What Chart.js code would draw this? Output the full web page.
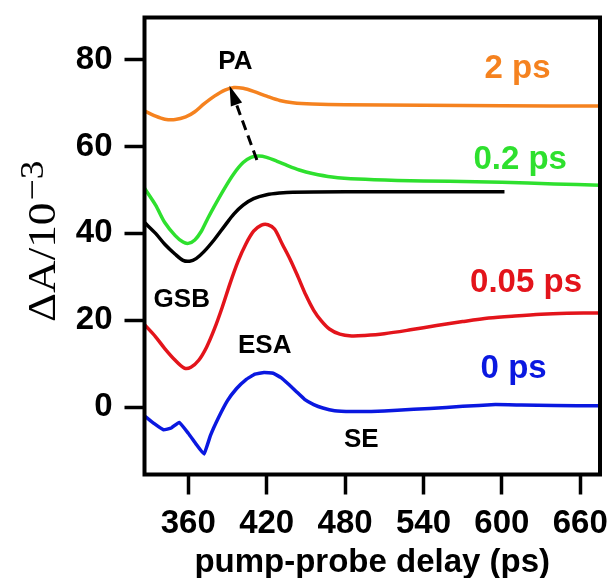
<!DOCTYPE html>
<html>
<head>
<meta charset="utf-8">
<script src="https://cdn.jsdelivr.net/npm/chart.js@4.4.0/dist/chart.umd.min.js"></script>
<style>
  html, body { margin: 0; padding: 0; background: #fff; }
</style>
</head>
<body>
<canvas id="myChart" width="611" height="578"></canvas>
<script>
'use strict';
// tick values
let xTicks = [360, 420, 480, 540, 600, 660];
let yTicks = [0, 20, 40, 60, 80];

// 2 ps
let delay2ps = [326.5, 335, 342, 350, 358, 365, 372, 380, 388, 395, 402, 410, 420, 430, 440, 455, 480, 540, 600, 675];
let dA2ps = [68.2, 67.0, 66.3, 66.2, 66.8, 68.0, 69.8, 71.6, 73.0, 73.6, 73.4, 72.7, 71.6, 70.6, 70.1, 69.8, 69.6, 69.5, 69.4, 69.3];

// 0.2 ps
let delay02ps = [326.5, 335, 342, 350, 356, 360, 365, 370, 375, 380, 388, 395, 402, 408, 414, 420, 428, 436, 445, 455, 470, 490, 520, 560, 600, 640, 675];
let dA02ps = [50.4, 46.5, 42.5, 39.5, 38.0, 37.7, 38.5, 40.5, 43.5, 46.3, 50.5, 53.8, 56.3, 57.5, 57.8, 57.5, 56.6, 55.6, 54.6, 53.8, 53.0, 52.5, 52.2, 52.0, 51.8, 51.4, 51.1];

// black trace
let delayBlack = [326.5, 335, 342, 350, 356, 361, 366, 372, 380, 388, 395, 402, 410, 420, 430, 440, 480, 540, 602];
let dABlack = [42.5, 40.0, 37.5, 35.2, 33.8, 33.6, 34.2, 35.8, 38.6, 41.8, 44.5, 46.5, 48.0, 48.9, 49.3, 49.5, 49.6, 49.6, 49.6];

// 0.05 ps
let delay005ps = [326.5, 335, 342, 350, 357, 362, 368, 374, 380, 386, 392, 398, 404, 410, 416, 421, 426, 432, 438, 444, 450, 456, 462, 468, 476, 485, 495, 510, 530, 550, 570, 590, 610, 630, 650, 675];
let dA005ps = [19.0, 16.2, 13.5, 10.8, 9.0, 9.2, 10.8, 13.8, 18.0, 23.0, 28.5, 33.5, 37.5, 40.5, 41.9, 42.0, 41.0, 37.5, 34.0, 30.0, 25.8, 22.3, 19.8, 18.0, 16.8, 16.4, 16.5, 16.9, 17.8, 18.8, 19.7, 20.5, 21.0, 21.4, 21.6, 21.7];

// 0 ps
let delay0ps = [326.5, 334, 341, 347, 353, 360, 366, 372, 377, 383, 390, 397, 404, 411, 418, 425, 431, 437, 443, 449, 456, 463, 472, 485, 500, 520, 545, 570, 595, 615, 640, 675];
let dA0ps = [-2.0, -3.8, -5.2, -4.8, -3.5, -6.0, -8.5, -10.8, -6.5, -2.5, 1.5, 4.3, 6.3, 7.6, 8.0, 7.8, 6.8, 5.2, 3.5, 1.8, 0.6, -0.2, -0.8, -1.0, -1.0, -0.7, -0.3, 0.2, 0.6, 0.5, 0.4, 0.3];

let orange = '#f5821f';
let green = '#2ee02e';
let red = '#e3141b';
let blue = '#0a18e0';
let boldFont = 'Liberation Sans, Arial, sans-serif';

// text notes, placed in data units
let notes = [
    { text: 'PA', x: 396, y: 79.6, color: '#000', size: 26 },
    { text: 'GSB', x: 355, y: 24.6, color: '#000', size: 26 },
    { text: 'ESA', x: 418.5, y: 14.2, color: '#000', size: 26 },
    { text: 'SE', x: 492.4, y: -7.5, color: '#000', size: 26 },
    { text: '2 ps', x: 612, y: 77.8, color: orange, size: 33 },
    { text: '0.2 ps', x: 614, y: 56.9, color: green, size: 33 },
    { text: '0.05 ps', x: 618.5, y: 28.5, color: red, size: 33 },
    { text: '0 ps', x: 609, y: 8.8, color: blue, size: 33 }
];
let arrowFrom = [412.5, 56.9];
let arrowTo = [391.6, 74.0];

function series(xs, ys, color, tension) {
    return {
        data: xs.map((v, i) => ({ x: v, y: ys[i] })),
        borderColor: color,
        borderWidth: 3.5,
        pointRadius: 0,
        showLine: true,
        fill: false,
        tension: tension
    };
}

let decorations = {
    id: 'decorations',
    afterDatasetsDraw(chart) {
        let ctx = chart.ctx;
        let a = chart.chartArea;
        let xs = chart.scales.x;
        let ys = chart.scales.y;
        ctx.save();
        // frame box
        ctx.lineWidth = 4;
        ctx.strokeStyle = '#000';
        ctx.strokeRect(a.left, a.top, a.right - a.left, a.bottom - a.top);

        // dashed arrow
        let x1 = xs.getPixelForValue(arrowFrom[0]), y1 = ys.getPixelForValue(arrowFrom[1]);
        let x2 = xs.getPixelForValue(arrowTo[0]), y2 = ys.getPixelForValue(arrowTo[1]);
        let ang = Math.atan2(y2 - y1, x2 - x1);
        let head = 20;
        ctx.lineWidth = 3;
        ctx.setLineDash([10, 6]);
        ctx.beginPath();
        ctx.moveTo(x1, y1);
        ctx.lineTo(x2 - head * Math.cos(ang), y2 - head * Math.sin(ang));
        ctx.stroke();
        ctx.setLineDash([]);
        ctx.fillStyle = '#000';
        ctx.beginPath();
        ctx.moveTo(x2, y2);
        ctx.lineTo(x2 - head * Math.cos(ang) + 6 * Math.sin(ang), y2 - head * Math.sin(ang) - 6 * Math.cos(ang));
        ctx.lineTo(x2 - head * Math.cos(ang) - 6 * Math.sin(ang), y2 - head * Math.sin(ang) + 6 * Math.cos(ang));
        ctx.closePath();
        ctx.fill();

        // notes
        ctx.textAlign = 'center';
        ctx.textBaseline = 'middle';
        notes.forEach(n => {
            ctx.font = 'bold ' + n.size + 'px ' + boldFont;
            ctx.fillStyle = n.color;
            ctx.fillText(n.text, xs.getPixelForValue(n.x), ys.getPixelForValue(n.y));
        });
        ctx.restore();
    },
    afterDraw(chart) {
        // y axis title with superscript, drawn rotated
        let ctx = chart.ctx;
        ctx.save();
        ctx.translate(55, 322);
        ctx.rotate(-Math.PI / 2);
        ctx.scale(1.13, 1);
        ctx.fillStyle = '#000';
        ctx.textAlign = 'left';
        ctx.textBaseline = 'alphabetic';
        ctx.font = '40px "Liberation Serif", "Times New Roman", serif';
        let main = 'ΔA/10';
        ctx.fillText(main, 0, 0);
        let w = ctx.measureText(main).width;
        ctx.font = '33px "Liberation Serif", "Times New Roman", serif';
        ctx.fillText('−3', w + 2, -12);
        ctx.restore();
    }
};

let ctx = document.getElementById('myChart').getContext('2d');
let myChart = new Chart(ctx, {
    type: 'scatter',
    data: {
        datasets: [
            series(delay2ps, dA2ps, orange, 0.3),
            series(delay02ps, dA02ps, green, 0.3),
            series(delayBlack, dABlack, '#000', 0.3),
            series(delay005ps, dA005ps, red, 0.3),
            series(delay0ps, dA0ps, blue, 0.1)
        ]
    },
    options: {
        responsive: false,
        animation: false,
        layout: {
            autoPadding: false,
            padding: { left: 0, right: 11, top: 17.5, bottom: 0 }
        },
        plugins: {
            legend: { display: false },
            tooltip: { enabled: false }
        },
        scales: {
            x: {
                type: 'linear',
                min: 326.5,
                max: 675.1,
                afterBuildTicks: s => { s.ticks = xTicks.map(v => ({ value: v })); },
                afterFit: s => {
                    s.height = 103.5;
                    s.paddingLeft = 0;
                    s.paddingRight = 0;
                },
                border: { display: false },
                grid: {
                    drawOnChartArea: false,
                    drawTicks: true,
                    tickLength: 20,
                    tickWidth: 3.5,
                    tickColor: '#000'
                },
                ticks: {
                    color: '#000',
                    padding: 10,
                    maxRotation: 0,
                    font: { family: boldFont, size: 33, weight: 'bold' }
                },
                title: {
                    display: true,
                    text: 'pump-probe delay (ps)',
                    color: '#000',
                    padding: { top: 0, bottom: 0 },
                    font: { family: boldFont, size: 33, weight: 'bold', lineHeight: 0.9 }
                }
            },
            y: {
                min: -15.5,
                max: 89.7,
                afterBuildTicks: s => { s.ticks = yTicks.map(v => ({ value: v })); },
                afterFit: s => {
                    s.width = 144.5;
                    s.paddingTop = 0;
                    s.paddingBottom = 0;
                },
                border: { display: false },
                grid: {
                    drawOnChartArea: false,
                    drawTicks: true,
                    tickLength: 20,
                    tickWidth: 3.5,
                    tickColor: '#000'
                },
                ticks: {
                    color: '#000',
                    padding: 12,
                    font: { family: boldFont, size: 33, weight: 'bold' }
                }
            }
        }
    },
    plugins: [decorations]
});
</script>
</body>
</html>
